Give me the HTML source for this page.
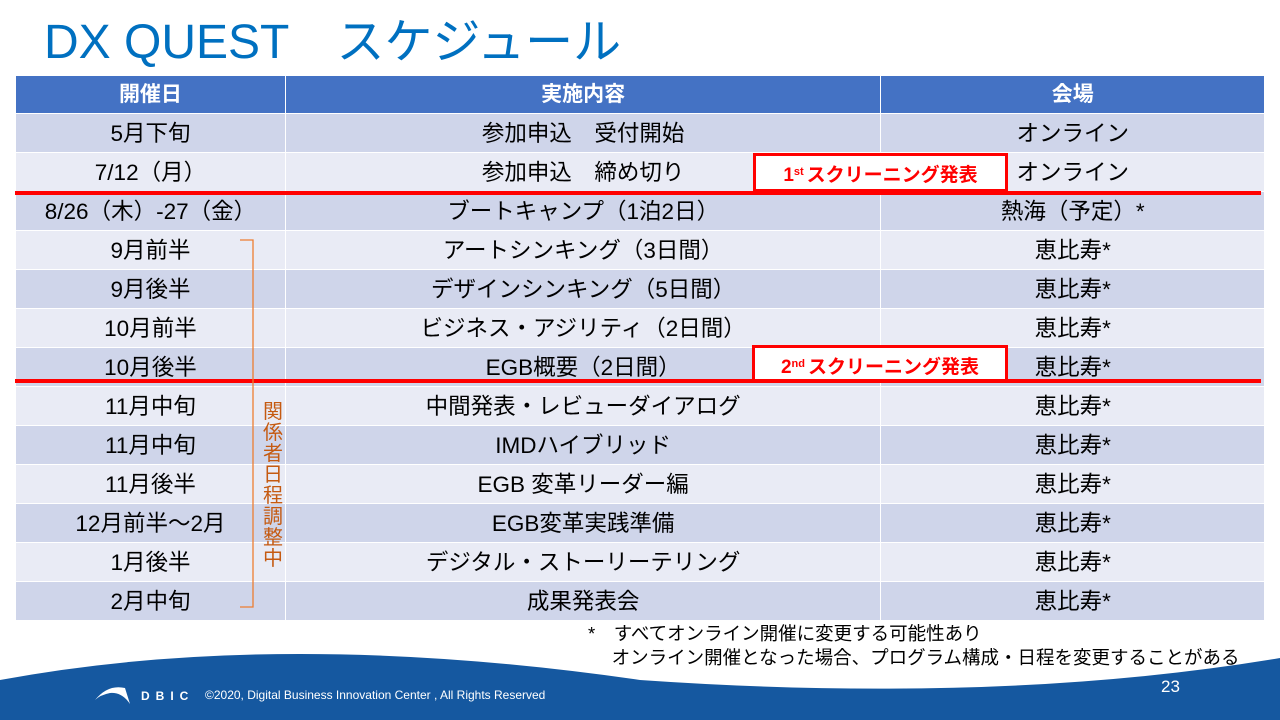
<!DOCTYPE html>
<html><head><meta charset="utf-8">
<style>
*{margin:0;padding:0;box-sizing:border-box}
body{width:1280px;height:720px;overflow:hidden;background:#fff;position:relative;font-family:"Liberation Sans","Noto Sans CJK JP",sans-serif}
.abs{position:absolute}
#title{left:44px;top:2px;font-size:48px;color:#0070C0;white-space:pre}
table{position:absolute;left:15px;top:75px;border-collapse:collapse;width:1250px}
td,th{border:1px solid #fff;text-align:center;font-size:22.5px;color:#000;height:39px;padding:0;font-weight:normal;white-space:nowrap;line-height:37px}
th{background:#4472C4;color:#fff;font-weight:bold;height:37px;font-size:21px}
tr.d td{background:#CFD5EA}
tr.l td{background:#E9EBF5}
.redline{left:15px;width:1246px;height:4px;background:#FF0000}
.box{background:#fff;border:3px solid #FF0000;color:#FF0000;font-weight:bold;font-size:19px;text-align:center;line-height:32px}
.box sup{font-size:11px;vertical-align:6px;margin-right:3px}
#vtext{left:262px;top:402px;width:22px;color:#C55A11;font-size:20px;line-height:21px;text-align:center}
#note{left:588px;top:622px;font-size:18.5px;line-height:24px;white-space:pre}
</style></head><body>
<div id="title" class="abs">DX QUEST　スケジュール</div>
<table>
<colgroup><col style="width:270px"><col style="width:596px"><col style="width:384px"></colgroup>
<tr><th>開催日</th><th>実施内容</th><th>会場</th></tr>
<tr class="d"><td>5月下旬</td><td>参加申込　受付開始</td><td>オンライン</td></tr>
<tr class="l"><td>7/12（月）</td><td>参加申込　締め切り</td><td>オンライン</td></tr>
<tr class="d"><td>8/26（木）-27（金）</td><td>ブートキャンプ（1泊2日）</td><td>熱海（予定）*</td></tr>
<tr class="l"><td>9月前半</td><td>アートシンキング（3日間）</td><td>恵比寿*</td></tr>
<tr class="d"><td>9月後半</td><td>デザインシンキング（5日間）</td><td>恵比寿*</td></tr>
<tr class="l"><td>10月前半</td><td>ビジネス・アジリティ（2日間）</td><td>恵比寿*</td></tr>
<tr class="d"><td>10月後半</td><td>EGB概要（2日間）</td><td>恵比寿*</td></tr>
<tr class="l"><td>11月中旬</td><td>中間発表・レビューダイアログ</td><td>恵比寿*</td></tr>
<tr class="d"><td>11月中旬</td><td>IMDハイブリッド</td><td>恵比寿*</td></tr>
<tr class="l"><td>11月後半</td><td>EGB 変革リーダー編</td><td>恵比寿*</td></tr>
<tr class="d"><td>12月前半～2月</td><td>EGB変革実践準備</td><td>恵比寿*</td></tr>
<tr class="l"><td>1月後半</td><td>デジタル・ストーリーテリング</td><td>恵比寿*</td></tr>
<tr class="d"><td>2月中旬</td><td>成果発表会</td><td>恵比寿*</td></tr>
</table>
<div class="abs redline" style="top:191px"></div>
<div class="abs redline" style="top:379px"></div>
<div class="abs box" style="left:753px;top:153px;width:255px;height:39px">1<sup>st</sup>スクリーニング発表</div>
<div class="abs box" style="left:752px;top:345px;width:256px;height:37px">2<sup>nd</sup>スクリーニング発表</div>
<svg class="abs" style="left:0;top:0" width="1280" height="720">
<path d="M240,240 H253 V607 H240" fill="none" stroke="#ED7D31" stroke-width="1.3"/>
<path d="M0,680 Q280,628 640,680 Q1000,705 1280,658 V720 H0 Z" fill="#1558A0"/>
<path d="M95,700 Q108,684 125,688 L130,704 Q122,692 110,693 Q100,695 95,700 Z" fill="#fff"/>
<text x="141" y="700" fill="#fff" font-family="Liberation Sans" font-weight="bold" font-size="12" letter-spacing="6">DBIC</text>
<text x="205" y="699" fill="#fff" font-family="Liberation Sans" font-size="12">©2020, Digital Business Innovation Center , All Rights Reserved</text>
<text x="1161" y="692" fill="#fff" font-family="Liberation Sans" font-size="17">23</text>
</svg>
<div id="vtext" class="abs">関<br>係<br>者<br>日<br>程<br>調<br>整<br>中</div>
<div id="note" class="abs">*　すべてオンライン開催に変更する可能性あり
　 オンライン開催となった場合、プログラム構成・日程を変更することがある</div>
</body></html>
